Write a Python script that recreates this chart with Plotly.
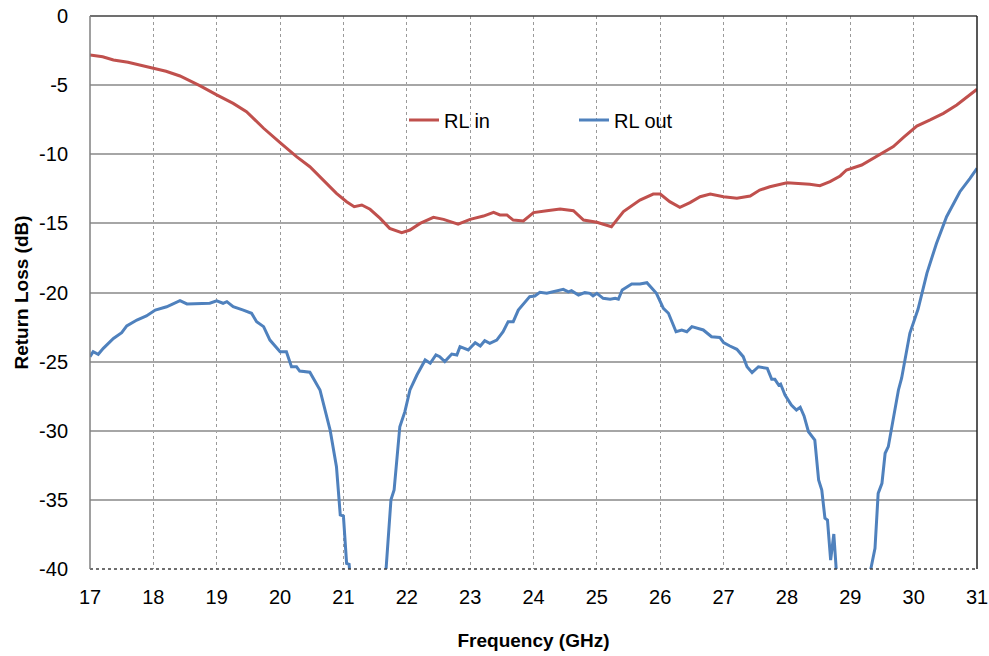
import plotly.graph_objects as go

# RL in (red)
freq_in = [17.0, 17.2, 17.37, 17.6, 18.0, 18.2, 18.42, 18.74, 19.0, 19.26, 19.47, 19.74,
           20.0, 20.26, 20.47, 20.68, 20.89, 21.05, 21.17, 21.29, 21.42, 21.58, 21.73,
           21.92, 22.05, 22.21, 22.42, 22.58, 22.81, 23.0, 23.21, 23.37, 23.47, 23.58,
           23.68, 23.84, 24.0, 24.21, 24.42, 24.63, 24.79, 25.0, 25.23, 25.42, 25.68,
           25.89, 26.0, 26.15, 26.31, 26.47, 26.63, 26.79, 27.0, 27.21, 27.42, 27.57,
           27.73, 28.0, 28.21, 28.36, 28.52, 28.68, 28.84, 28.94, 29.18, 29.36, 29.55,
           29.68, 29.84, 30.05, 30.26, 30.47, 30.68, 30.84, 31.0]
rl_in = [-2.82, -2.95, -3.18, -3.35, -3.78, -4.0, -4.34, -5.06, -5.71, -6.32, -6.92, -8.12,
         -9.16, -10.17, -10.9, -11.86, -12.83, -13.43, -13.79, -13.67, -13.98, -14.64, -15.36,
         -15.67, -15.48, -15.0, -14.56, -14.71, -15.05, -14.71, -14.47, -14.2, -14.39, -14.39,
         -14.76, -14.83, -14.22, -14.08, -13.96, -14.08, -14.76, -14.92, -15.24, -14.15, -13.31,
         -12.88, -12.88, -13.43, -13.84, -13.5, -13.07, -12.88, -13.07, -13.19, -13.02, -12.59,
         -12.35, -12.06, -12.1, -12.17, -12.27, -11.98, -11.57, -11.14, -10.78, -10.3, -9.74,
         -9.45, -8.78, -7.96, -7.52, -7.04, -6.44, -5.88, -5.3]

# RL out (blue)
freq_out = [17.0, 17.05, 17.13, 17.21, 17.37, 17.5, 17.58, 17.74, 17.89, 18.03, 18.21, 18.42,
            18.53, 18.74, 18.89, 19.0, 19.1, 19.16, 19.26, 19.42, 19.55, 19.63, 19.74, 19.84,
            20.0, 20.1, 20.18, 20.26, 20.31, 20.47, 20.63, 20.79, 20.89, 20.95, 21.0, 21.05,
            21.09, 21.12, 21.4, 21.65, 21.75, 21.8, 21.89, 21.97, 22.05, 22.16, 22.29, 22.37,
            22.46, 22.52, 22.6, 22.71, 22.79, 22.84, 22.97, 23.08, 23.16, 23.23, 23.31, 23.42,
            23.52, 23.6, 23.68, 23.76, 23.94, 24.02, 24.1, 24.21, 24.37, 24.47, 24.55, 24.6,
            24.71, 24.81, 24.89, 24.94, 25.0, 25.1, 25.21, 25.29, 25.34, 25.4, 25.55, 25.68,
            25.79, 25.94, 26.05, 26.13, 26.25, 26.34, 26.42, 26.5, 26.68, 26.81, 26.94, 27.0,
            27.1, 27.21, 27.31, 27.37, 27.45, 27.55, 27.69, 27.76, 27.81, 27.87, 27.9, 27.97,
            28.07, 28.15, 28.21, 28.27, 28.34, 28.44, 28.5, 28.55, 28.6, 28.64, 28.69, 28.74,
            28.8, 29.0, 29.28, 29.39, 29.44, 29.5, 29.55, 29.6, 29.76, 29.81, 29.94, 30.07,
            30.21, 30.36, 30.52, 30.73, 30.89, 31.0]
rl_out = [-24.64, -24.28, -24.47, -24.04, -23.32, -22.91, -22.42, -21.99, -21.7, -21.27, -21.03, -20.59,
          -20.83, -20.78, -20.78, -20.61, -20.78, -20.66, -21.03, -21.27, -21.5, -22.11, -22.47, -23.44,
          -24.28, -24.28, -25.37, -25.37, -25.68, -25.77, -27.05, -29.95, -32.6, -36.09, -36.17, -39.59,
          -39.66, -41.5, -45.0, -41.5, -35.0, -34.29, -29.71, -28.62, -27.05, -25.97, -24.88, -25.12,
          -24.52, -24.64, -25.0, -24.45, -24.52, -23.92, -24.16, -23.63, -23.87, -23.49, -23.68, -23.44,
          -22.84, -22.11, -22.11, -21.27, -20.3, -20.25, -19.99, -20.06, -19.87, -19.77, -19.96, -19.87,
          -20.18, -20.01, -20.06, -20.25, -20.06, -20.42, -20.49, -20.42, -20.49, -19.82, -19.39, -19.39,
          -19.29, -20.06, -21.15, -21.5, -22.84, -22.71, -22.84, -22.47, -22.71, -23.2, -23.25, -23.63,
          -23.87, -24.11, -24.64, -25.37, -25.8, -25.37, -25.49, -26.28, -26.28, -26.69, -26.62, -27.41,
          -28.14, -28.5, -28.3, -28.93, -30.07, -30.67, -33.56, -34.29, -36.33, -36.46, -39.35, -37.47,
          -41.5, -45.0, -41.0, -38.5, -34.53, -33.8, -31.63, -31.15, -27.05, -26.2, -22.95, -21.2,
          -18.6, -16.45, -14.52, -12.71, -11.74, -11.02]

x_ticks = list(range(17, 32))
y_ticks = list(range(-40, 1, 5))

fig = go.Figure()
fig.add_trace(go.Scatter(x=freq_in, y=rl_in, mode="lines", name="RL in",
                         line=dict(color="#C0504D", width=3)))
fig.add_trace(go.Scatter(x=freq_out, y=rl_out, mode="lines", name="RL out",
                         line=dict(color="#4F81BD", width=3)))

font_family = "Liberation Sans, Arial, sans-serif"

fig.update_layout(
    width=989, height=656,
    margin=dict(l=90, r=12, t=16, b=87, autoexpand=False),
    paper_bgcolor="white", plot_bgcolor="white",
    font=dict(family=font_family, size=20, color="black"),
    showlegend=True,
    legend=dict(orientation="h", x=0.354, y=0.812, xanchor="left", yanchor="middle",
                bgcolor="rgba(0,0,0,0)", font=dict(size=20), entrywidth=125,
                entrywidthmode="pixels"),
    xaxis=dict(range=[17, 31], tickvals=x_ticks, ticktext=[str(v) for v in x_ticks],
               showgrid=True, gridcolor="#9a9a9a", griddash="dot", gridwidth=1,
               showline=False, zeroline=False, ticks="", ticklabelstandoff=14,
               automargin=False, ticklabeloverflow="allow",
               title=dict(text="<b>Frequency (GHz)</b>", font=dict(size=19), standoff=26)),
    yaxis=dict(range=[-40, 0], tickvals=y_ticks, ticktext=[str(v) for v in y_ticks],
               showgrid=True, gridcolor="#a6a6a6", gridwidth=1.5,
               showline=False, zeroline=False, ticks="", ticklabelstandoff=21,
               automargin=False, ticklabeloverflow="allow",
               title=dict(text="<b>Return Loss (dB)</b>", font=dict(size=19), standoff=5)),
    shapes=[
        dict(type="line", xref="paper", yref="paper", x0=0, x1=1, y0=1, y1=1,
             line=dict(color="#404040", width=1.5)),
        dict(type="line", xref="paper", yref="paper", x0=1, x1=1, y0=0, y1=1,
             line=dict(color="#202020", width=1.5)),
        dict(type="line", xref="paper", yref="paper", x0=0, x1=1, y0=0, y1=0,
             line=dict(color="#404040", width=1.5, dash="dot")),
        dict(type="line", xref="paper", yref="paper", x0=0, x1=0, y0=0, y1=1,
             line=dict(color="#808080", width=1.5)),
    ],
)

# remove the browser's default 8px body margin so the figure fills the window exactly
fig.write_html("out.html", config={"displayModeBar": False},
               post_script="document.body.style.margin='0';document.body.style.overflow='hidden';")
